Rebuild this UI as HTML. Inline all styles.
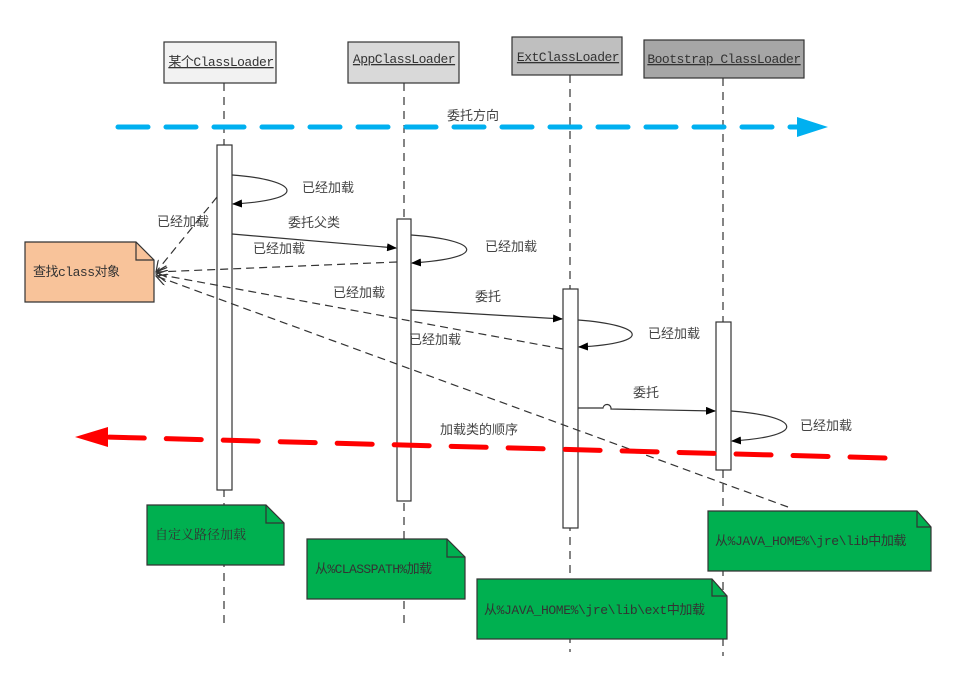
<!DOCTYPE html>
<html><head><meta charset="utf-8"><style>
html,body{margin:0;padding:0;background:#fff;}
svg{display:block;}
text{font-family:"Liberation Serif","Noto Serif CJK SC","Noto Sans CJK SC",serif;font-size:13px;fill:#333;}
.lb{font-family:"Liberation Sans","Noto Sans CJK SC",sans-serif;fill:#444;}
.mono{font-family:"Liberation Mono","Noto Sans CJK SC",monospace;}
</style></head><body>
<svg width="971" height="677" viewBox="0 0 971 677" xmlns="http://www.w3.org/2000/svg">
<defs>
<marker id="ah" markerWidth="10" markerHeight="8" refX="9" refY="4" orient="auto" markerUnits="userSpaceOnUse"><path d="M0,0 L10,4 L0,8 z" fill="#000"/></marker>
<marker id="oa" markerWidth="12" markerHeight="12" refX="11" refY="6" orient="auto" markerUnits="userSpaceOnUse"><path d="M0,0 L11,6 L0,12" fill="none" stroke="#333" stroke-width="1.2"/></marker>
</defs>
<g stroke="#333" stroke-width="1.2" stroke-dasharray="8,6">
<line x1="224" y1="83" x2="224" y2="628"/>
<line x1="404" y1="83" x2="404" y2="628"/>
<line x1="570" y1="75" x2="570" y2="652"/>
<line x1="723" y1="78" x2="723" y2="656"/>
</g>
<g stroke="#333" stroke-width="1.2">
<rect x="164" y="42" width="112" height="41" fill="#f2f2f2"/>
<rect x="348" y="42" width="111" height="41" fill="#d9d9d9"/>
<rect x="512" y="37" width="110" height="38" fill="#bfbfbf"/>
<rect x="644" y="40" width="160" height="38" fill="#a6a6a6"/>
</g>
<text class="mono" x="221" y="66" text-anchor="middle" font-size="11" letter-spacing="-0.5" text-decoration="underline">某个ClassLoader</text>
<text class="mono" x="404" y="63" text-anchor="middle" font-size="11" letter-spacing="-0.5" text-decoration="underline">AppClassLoader</text>
<text class="mono" x="568" y="61" text-anchor="middle" font-size="11" letter-spacing="-0.5" text-decoration="underline">ExtClassLoader</text>
<text class="mono" x="724" y="63" text-anchor="middle" font-size="11" letter-spacing="-0.5" text-decoration="underline">Bootstrap ClassLoader</text>
<line x1="118" y1="127" x2="800" y2="127" stroke="#00b0f0" stroke-width="5" stroke-dasharray="30,18" stroke-linecap="round"/>
<path d="M797,117 L828,127 L797,137 z" fill="#00b0f0"/>
<text class="lb" x="447" y="120">委托方向</text>
<g stroke="#333" stroke-width="1.2" fill="#fff">
<rect x="217" y="145" width="15" height="345"/>
<rect x="397" y="219" width="14" height="282"/>
<rect x="563" y="289" width="15" height="239"/>
<rect x="716" y="322" width="15" height="148"/>
</g>
<g fill="none" stroke="#333" stroke-width="1.2" marker-end="url(#ah)">
<path d="M232,175 C300,180 310,200 233,204"/>
<path d="M411,235 C480,240 490,258 412,263"/>
<path d="M578,320 C645,325 655,343 579,347"/>
<path d="M731,411 C800,416 810,436 732,441"/>
</g>
<g stroke="#333" stroke-width="1.2" fill="none" marker-end="url(#ah)">
<line x1="232" y1="234" x2="396" y2="248"/>
<line x1="411" y1="310" x2="562" y2="319"/>
<path d="M578,408 L603,408 A4,4 0 0 1 611,409 L715,411"/>
</g>
<g stroke="#333" stroke-width="1.2" fill="none" stroke-dasharray="8,5">
<line x1="397" y1="262" x2="156" y2="272" marker-end="url(#oa)"/>
<line x1="217" y1="197" x2="156" y2="272" marker-end="url(#oa)"/>
<line x1="563" y1="349" x2="156" y2="274" marker-end="url(#oa)"/>
<line x1="788" y1="507" x2="156" y2="276" marker-end="url(#oa)"/>
</g>
<line x1="885" y1="458" x2="105" y2="437" stroke="#ff0000" stroke-width="5" stroke-dasharray="35,22" stroke-linecap="round"/>
<path d="M108,427 L75,437 L108,447 z" fill="#ff0000"/>
<text class="lb" x="302" y="192">已经加载</text>
<text class="lb" x="157" y="226">已经加载</text>
<text class="lb" x="288" y="227">委托父类</text>
<text class="lb" x="253" y="253">已经加载</text>
<text class="lb" x="485" y="251">已经加载</text>
<text class="lb" x="333" y="297">已经加载</text>
<text class="lb" x="475" y="301">委托</text>
<text class="lb" x="648" y="338">已经加载</text>
<text class="lb" x="409" y="344">已经加载</text>
<text class="lb" x="633" y="397">委托</text>
<text class="lb" x="800" y="430">已经加载</text>
<text class="lb" x="440" y="434">加载类的顺序</text>
<g stroke="#333" stroke-width="1.2">
<path d="M25,242 H136 L154,260 V302 H25 z" fill="#f8c39a"/>
<path d="M136,242 V260 H154" fill="none"/>
<path d="M147,505 H266 L284,523 V565 H147 z" fill="#00b050"/>
<path d="M266,505 V523 H284" fill="none"/>
<path d="M307,539 H447 L465,557 V599 H307 z" fill="#00b050"/>
<path d="M447,539 V557 H465" fill="none"/>
<path d="M477,579 H712 L727,596 V639 H477 z" fill="#00b050"/>
<path d="M712,579 V596 H727" fill="none"/>
<path d="M708,511 H917 L931,527 V571 H708 z" fill="#00b050"/>
<path d="M917,511 V527 H931" fill="none"/>
</g>
<text class="mono" x="33" y="276" fill="#333" font-size="13" letter-spacing="-0.5">查找class对象</text>
<text x="155" y="539" fill="#222">自定义路径加载</text>
<text class="mono" x="315" y="573" fill="#222" font-size="12" letter-spacing="-0.6">从%CLASSPATH%加载</text>
<text class="mono" x="484" y="614" fill="#222" font-size="12" letter-spacing="-0.4">从%JAVA_HOME%\jre\lib\ext中加载</text>
<text class="mono" x="715" y="545" fill="#222" font-size="12" letter-spacing="-0.4">从%JAVA_HOME%\jre\lib中加载</text>
</svg>
</body></html>
